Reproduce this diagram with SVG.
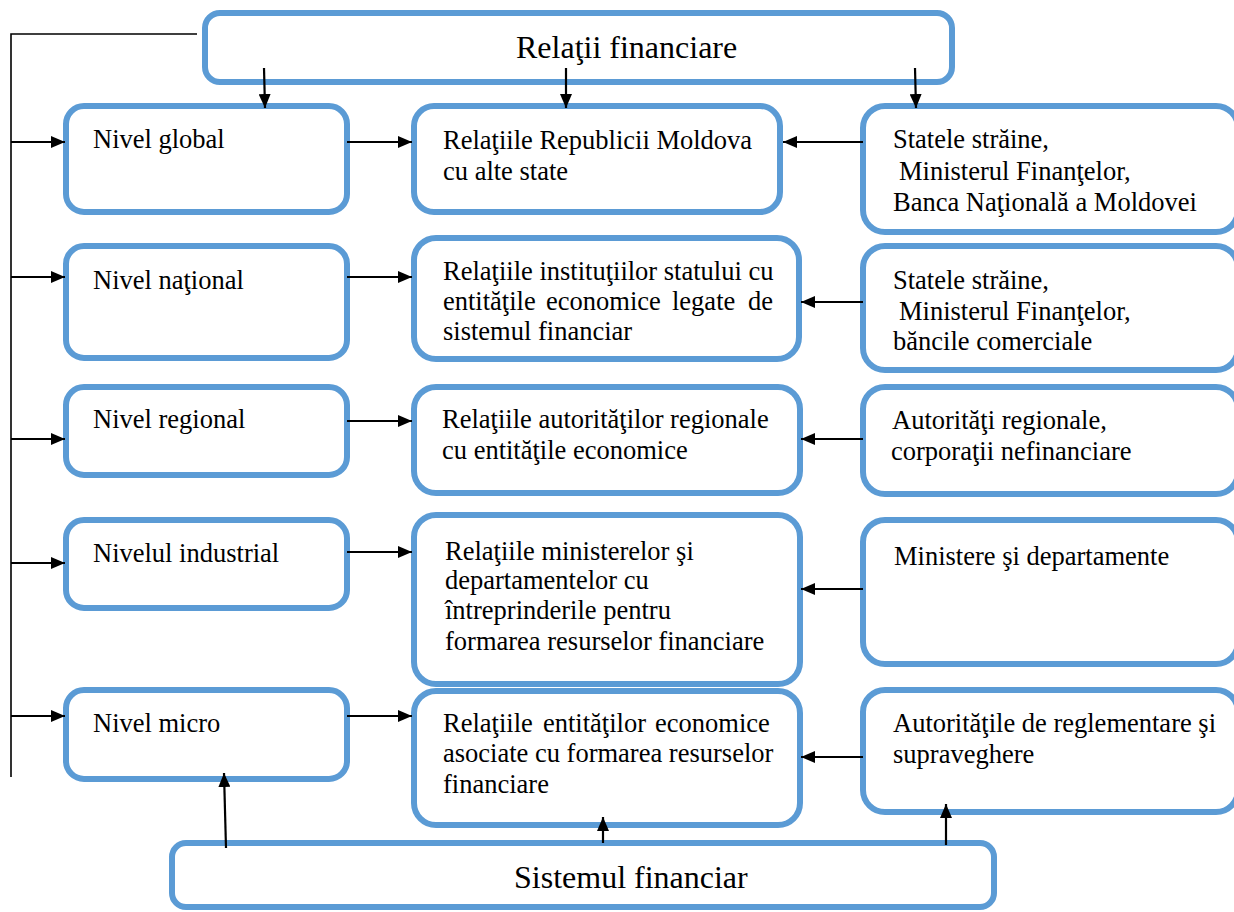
<svg xmlns="http://www.w3.org/2000/svg" width="1234" height="912" viewBox="0 0 1234 912">
  <style>
    .box { fill: #ffffff; stroke: #5B9BD5; stroke-width: 6; }
    .t { font-family: "Liberation Serif", "Times New Roman", serif; font-size: 26.5px; fill: #000000; }
    .big { font-family: "Liberation Serif", "Times New Roman", serif; font-size: 32px; fill: #000000; }
    .arr { stroke: #000000; stroke-width: 2.2; fill: none; marker-end: url(#head); }
    .trunk { stroke: #000000; stroke-width: 1.6; fill: none; }
  </style>
  <defs>
    <marker id="head" viewBox="0 0 14 12" refX="14" refY="6" markerWidth="14" markerHeight="12" markerUnits="userSpaceOnUse" orient="auto">
      <path d="M0,0 L14,6 L0,12 z" fill="#000000"/>
    </marker>
  </defs>

  <rect width="1234" height="912" fill="#ffffff"/>

  <!-- top: financial relations -->
  <g id="relatii-financiare">
    <rect class="box" x="205" y="13" width="747" height="69" rx="15"/>
    <text class="big" x="516" y="58">Relaţii financiare</text>
  </g>

  <!-- left column: levels -->
  <g id="nivel-global">
    <rect class="box" x="66" y="106" width="281" height="106" rx="18"/>
    <text class="t" x="93" y="148">Nivel global</text>
  </g>
  <g id="nivel-national">
    <rect class="box" x="66" y="246" width="281" height="112" rx="18"/>
    <text class="t" x="93" y="289">Nivel naţional</text>
  </g>
  <g id="nivel-regional">
    <rect class="box" x="66" y="387" width="281" height="88" rx="18"/>
    <text class="t" x="93" y="428">Nivel regional</text>
  </g>
  <g id="nivel-industrial">
    <rect class="box" x="66" y="520" width="281" height="88" rx="18"/>
    <text class="t" x="93" y="562">Nivelul industrial</text>
  </g>
  <g id="nivel-micro">
    <rect class="box" x="66" y="690" width="281" height="89" rx="18"/>
    <text class="t" x="93" y="732">Nivel micro</text>
  </g>

  <!-- middle column: relations -->
  <g id="rel-global">
    <rect class="box" x="414" y="106" width="366" height="106" rx="20"/>
    <text class="t" x="443" y="149">Relaţiile Republicii Moldova</text>
    <text class="t" x="443" y="180">cu alte state</text>
  </g>
  <g id="rel-national">
    <rect class="box" x="414" y="238" width="385" height="121" rx="22"/>
    <text class="t" x="443" y="280">Relaţiile instituţiilor statului cu</text>
    <text class="t" y="310"><tspan x="443">entităţile</tspan><tspan x="546">economice</tspan><tspan x="672">legate</tspan><tspan x="748">de</tspan></text>
    <text class="t" x="443" y="340">sistemul financiar</text>
  </g>
  <g id="rel-regional">
    <rect class="box" x="414" y="387" width="386" height="106" rx="22"/>
    <text class="t" x="442" y="428">Relaţiile autorităţilor regionale</text>
    <text class="t" x="442" y="459">cu entităţile economice</text>
  </g>
  <g id="rel-industrial">
    <rect class="box" x="414" y="515" width="386" height="169" rx="22"/>
    <text class="t" x="445" y="560">Relaţiile ministerelor şi</text>
    <text class="t" x="445" y="589">departamentelor cu</text>
    <text class="t" x="445" y="619">întreprinderile pentru</text>
    <text class="t" x="445" y="650">formarea resurselor financiare</text>
  </g>
  <g id="rel-micro">
    <rect class="box" x="414" y="691" width="386" height="134" rx="22"/>
    <text class="t" y="732"><tspan x="443">Relaţiile</tspan><tspan x="543">entităţilor</tspan><tspan x="655">economice</tspan></text>
    <text class="t" x="443" y="762">asociate cu formarea resurselor</text>
    <text class="t" x="443" y="793">financiare</text>
  </g>

  <!-- right column: actors -->
  <g id="act-global">
    <rect class="box" x="863" y="106" width="375" height="126" rx="22"/>
    <text class="t" x="893" y="148">Statele străine,</text>
    <text class="t" x="899" y="180">Ministerul Finanţelor,</text>
    <text class="t" x="893" y="211">Banca Naţională a Moldovei</text>
  </g>
  <g id="act-national">
    <rect class="box" x="863" y="246" width="375" height="124" rx="22"/>
    <text class="t" x="893" y="289">Statele străine,</text>
    <text class="t" x="899" y="320">Ministerul Finanţelor,</text>
    <text class="t" x="893" y="350">băncile comerciale</text>
  </g>
  <g id="act-regional">
    <rect class="box" x="863" y="387" width="375" height="107" rx="22"/>
    <text class="t" x="892" y="429">Autorităţi regionale,</text>
    <text class="t" x="891" y="460">corporaţii nefinanciare</text>
  </g>
  <g id="act-industrial">
    <rect class="box" x="863" y="520" width="375" height="144" rx="22"/>
    <text class="t" x="894" y="565">Ministere şi departamente</text>
  </g>
  <g id="act-micro">
    <rect class="box" x="863" y="690" width="375" height="122" rx="22"/>
    <text class="t" x="893" y="732">Autorităţile de reglementare şi</text>
    <text class="t" x="893" y="763">supraveghere</text>
  </g>

  <!-- bottom: financial system -->
  <g id="sistemul-financiar">
    <rect class="box" x="172" y="843" width="822" height="64" rx="14"/>
    <text class="big" x="514" y="888">Sistemul financiar</text>
  </g>

  <!-- connectors -->
  <g id="connectors">
    <!-- left trunk from the top box -->
    <polyline class="trunk" points="197,34 11,34 11,777"/>
    <line class="arr" x1="11" y1="142" x2="65" y2="142"/>
    <line class="arr" x1="11" y1="277" x2="65" y2="277"/>
    <line class="arr" x1="11" y1="439" x2="65" y2="439"/>
    <line class="arr" x1="11" y1="563" x2="65" y2="563"/>
    <line class="arr" x1="11" y1="716" x2="65" y2="716"/>

    <!-- top box down -->
    <line class="arr" x1="264" y1="68" x2="265" y2="108"/>
    <line class="arr" x1="566" y1="68" x2="566" y2="108"/>
    <line class="arr" x1="915" y1="68" x2="916" y2="108"/>

    <!-- levels to relations -->
    <line class="arr" x1="347" y1="142" x2="412" y2="142"/>
    <line class="arr" x1="347" y1="277" x2="412" y2="277"/>
    <line class="arr" x1="347" y1="421" x2="412" y2="421"/>
    <line class="arr" x1="347" y1="552" x2="412" y2="552"/>
    <line class="arr" x1="347" y1="716" x2="412" y2="716"/>

    <!-- actors to relations -->
    <line class="arr" x1="863" y1="142" x2="783" y2="142"/>
    <line class="arr" x1="863" y1="302" x2="801" y2="302"/>
    <line class="arr" x1="863" y1="439" x2="801" y2="439"/>
    <line class="arr" x1="863" y1="589" x2="801" y2="589"/>
    <line class="arr" x1="863" y1="757" x2="801" y2="757"/>

    <!-- financial system up -->
    <line class="arr" x1="226" y1="848" x2="224" y2="773"/>
    <line class="arr" x1="603" y1="843" x2="603" y2="817"/>
    <line class="arr" x1="946" y1="845" x2="946" y2="804"/>
  </g>
</svg>
